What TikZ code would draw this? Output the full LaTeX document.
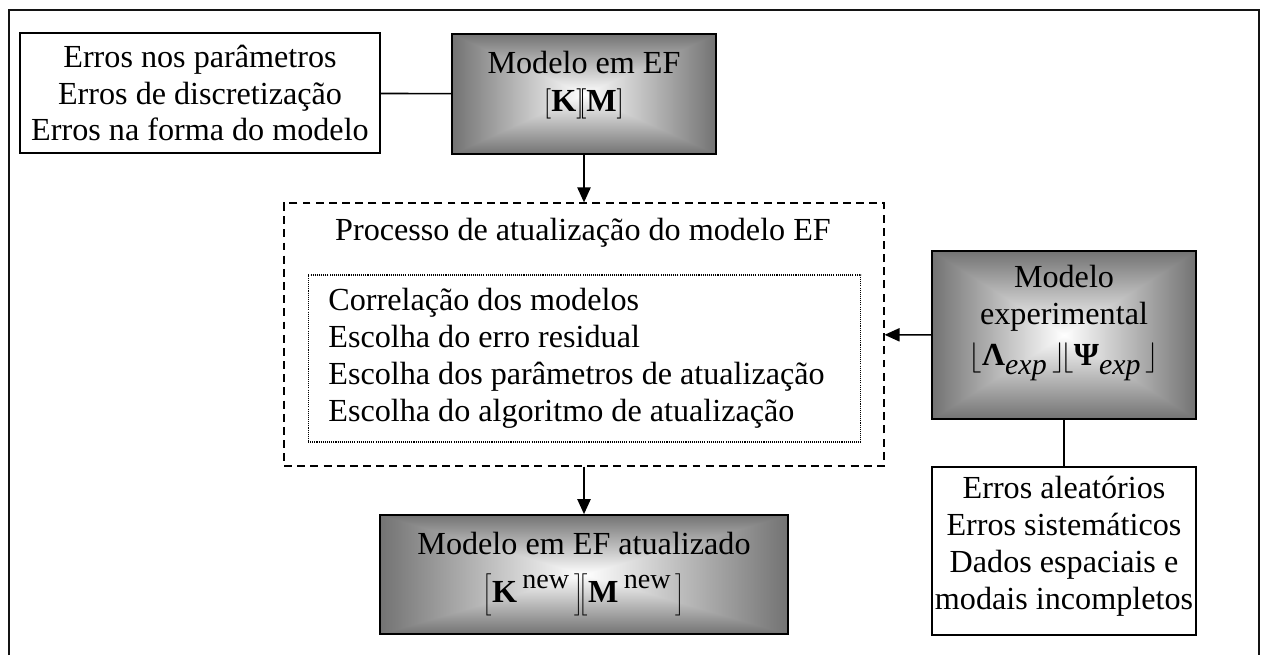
\documentclass[tikz,border=0pt]{standalone}
\usepackage{fontspec}
\setmainfont{Liberation Serif}
\usetikzlibrary{arrows.meta}
\definecolor{frame_black}{RGB}{20, 20, 20}
\pgfdeclarefunctionalshading{rectglow}{\pgfpoint{-50bp}{-50bp}}{\pgfpoint{50bp}{50bp}}{}{
  abs exch abs 2 copy lt {exch} if pop 25 div dup 1 gt {pop 1} if
  0.55 mul 1 exch sub dup dup
}
\tikzstyle{txt}=[font=\fontsize{18.3}{21}\selectfont,align=center,inner sep=0pt]
\tikzstyle{plain}=[rectangle,draw=black,fill=white,line width=1pt,inner sep=0pt]
\tikzstyle{glow}=[rectangle,draw=black,shading=rectglow,line width=1pt,inner sep=0pt]
\tikzstyle{procbox}=[rectangle,draw=black,line width=0.7pt,dash pattern=on 4.5pt off 3pt]
\tikzstyle{stepsbox}=[rectangle,draw=black,line width=0.6pt,dash pattern=on 0.6pt off 0.6pt]
\tikzstyle{link}=[line width=0.9pt]
\tikzstyle{arr}=[link,-{Triangle[length=8.5pt,width=7.5pt]}]

\begin{document}
\begin{tikzpicture}[x=0.02cm,y=-0.02cm]
    \useasboundingbox (0,0) rectangle (1266,655);
    % open frame round the whole figure
    \draw[frame_black,line width=1.1pt] (9,655) -- (9,10) -- (1259,10) -- (1259,655);
    \node [plain,minimum width=7.2cm,minimum height=2.4cm,txt] (errfe) at (200,93)
      {Erros nos parâmetros\\Erros de discretização\\Erros na forma do modelo};
    \node [glow,minimum width=5.28cm,minimum height=2.4cm] (fe) at (584,94) {};
    \node [txt] (fet) at (584,85)
      {Modelo em EF\\[1pt]$\Bigl[$\textbf{K}$\Bigr]\!\Bigl[$\textbf{M}$\Bigr]$};
    \node [procbox,minimum width=12cm,minimum height=5.26cm] (proc) at (584,334.5) {};
    \node [txt] (proct) at (583,233) {Processo de atualização do modelo EF};
    \node [stepsbox,minimum width=11.06cm,minimum height=3.34cm] (steps) at (584.5,358.5) {};
    \node [txt,align=left,anchor=west] (stepst) at (328,358)
      {Correlação dos modelos\\Escolha do erro residual\\Escolha dos parâmetros de atualização\\Escolha do algoritmo de atualização};
    \node [glow,minimum width=5.28cm,minimum height=3.36cm] (exp) at (1064,335) {};
    \node [txt] (expt) at (1064,323)
      {Modelo\\experimental\\[2pt]$\Bigl\lfloor$\textbf{Λ}\raisebox{-5pt}{\fontsize{17}{17}\selectfont\itshape exp}\,$\Bigr\rfloor\!\Bigl\lfloor$\textbf{Ψ}\raisebox{-5pt}{\fontsize{17}{17}\selectfont\itshape exp}\,$\Bigr\rfloor$};
    \node [plain,minimum width=5.28cm,minimum height=3.36cm] (errexp) at (1064,551) {};
    \node [txt] (errexpt) at (1064,546)
      {Erros aleatórios\\Erros sistemáticos\\Dados espaciais e\\modais incompletos};
    \node [glow,minimum width=8.16cm,minimum height=2.38cm] (upd) at (584,574.5) {};
    \node [txt] (updt) at (584,574)
      {Modelo em EF atualizado\\[6pt]$\Biggl[$\textbf{K}\,\raisebox{8pt}{\fontsize{16}{16}\selectfont new}\,$\Biggr]\!\Biggl[$\textbf{M}\,\raisebox{8pt}{\fontsize{16}{16}\selectfont new}\,$\Biggr]$};
    \draw[link] (errfe) -- (fe);
    \draw[arr] (fe) -- (proc);
    \draw[arr] (exp) -- (proc);
    \draw[link] (exp) -- (errexp);
    \draw[arr] (proc) -- (upd);
\end{tikzpicture}
\end{document}
